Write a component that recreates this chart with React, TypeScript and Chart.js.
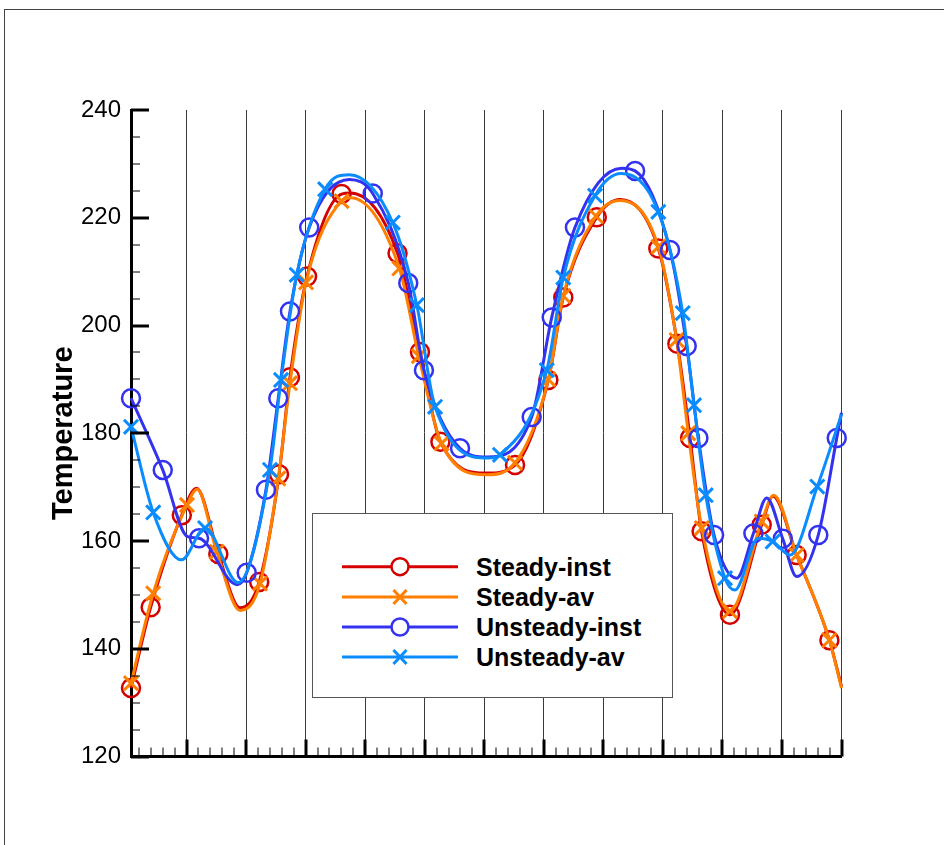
import React, { useEffect, useRef } from "react";
import { Chart, registerables } from "chart.js";

Chart.register(...registerables);

// ---------- data ----------
const SERIES_NAMES = ["Steady-inst", "Steady-av", "Unsteady-inst", "Unsteady-av"];
const SERIES_COLORS = ["#d40000", "#ff7f00", "#3232f0", "#0a8cff"];
const SERIES_STYLES = ["circle", "crossRot", "circle", "crossRot"];

// Steady-inst (m = 1: point carries a marker)
const SI_X = [2, 11.9, 27.6, 35.0, 46.0, 56.9, 66.6, 76.6, 82.1, 90.7, 108.1, 112.5, 136.3, 147.6, 157.9, 181.0, 195.5, 212.3, 219.8, 236.7, 248.5, 267.7, 277.3, 283.7, 289.5, 303.8, 319.8, 325.5, 337.4, 353.9, 360];
const SI_Y = [132.7, 147.7, 164.8, 169.8, 157.6, 147.6, 152.4, 172.4, 190.4, 209.1, 224.4, 224.6, 213.4, 195.1, 178.4, 172.6, 174.1, 189.9, 205.2, 220.1, 223.4, 214.3, 196.6, 179.1, 161.8, 146.3, 163.0, 168.3, 157.4, 141.6, 133.0];
const SI_M = [1, 1, 1, 0, 1, 0, 1, 1, 1, 1, 1, 0, 1, 1, 1, 0, 1, 1, 1, 1, 0, 1, 1, 1, 1, 1, 1, 0, 1, 1, 0];

// Steady-av
const SA_X = [2, 13.2, 30.2, 35.3, 45.2, 57.0, 67.0, 76.2, 82.1, 90.2, 108.1, 112.5, 137.2, 147.0, 158.5, 181.0, 195.5, 212.3, 219.8, 236.3, 248.5, 267.7, 276.9, 282.8, 289.6, 303.8, 319.8, 325.8, 337.4, 353.9, 360];
const SA_Y = [133.6, 150.3, 166.7, 169.6, 158.0, 147.1, 152.1, 171.6, 189.3, 208.0, 223.1, 223.7, 210.6, 194.3, 178.1, 172.3, 174.5, 190.0, 205.5, 220.3, 223.2, 214.6, 197.3, 180.0, 162.4, 147.0, 163.6, 168.5, 157.4, 141.6, 132.7];
const SA_M = [1, 1, 1, 0, 1, 0, 1, 1, 1, 1, 1, 0, 1, 1, 1, 0, 1, 1, 1, 1, 0, 1, 1, 1, 1, 1, 1, 0, 1, 1, 0];

// Unsteady-inst
const UI_X = [2, 18.0, 30.5, 36.3, 55.5, 60.3, 70.0, 76.2, 82.1, 91.8, 112.0, 123.8, 141.7, 149.6, 167.8, 181.5, 203.9, 214.0, 225.7, 249.2, 256.0, 273.6, 282.0, 287.9, 295.8, 307.2, 315.6, 322.3, 330.4, 337.4, 348.3, 357.6, 360];
const UI_Y = [186.5, 173.2, 160.8, 160.5, 151.9, 154.1, 169.5, 186.5, 202.6, 218.2, 227.1, 224.5, 207.9, 191.7, 177.2, 175.6, 183.0, 201.5, 218.2, 229.2, 228.7, 214.0, 196.2, 179.1, 161.1, 153.1, 161.4, 168.0, 160.4, 153.4, 161.1, 179.1, 183.8];
const UI_M = [1, 1, 0, 1, 0, 1, 1, 1, 1, 1, 0, 1, 1, 1, 1, 0, 1, 1, 1, 0, 1, 1, 1, 1, 1, 0, 1, 0, 1, 0, 1, 1, 0];

// Unsteady-av
const UA_X = [2, 13.2, 27.5, 39.3, 56.0, 72.0, 77.6, 85.5, 99.8, 112.0, 133.9, 146.0, 155.2, 182.0, 187.9, 211.5, 219.8, 235.8, 249.0, 267.7, 280.0, 285.7, 291.6, 301.3, 306.3, 318.0, 325.3, 334.1, 347.8, 360];
const UA_Y = [181.2, 165.3, 156.5, 162.4, 152.3, 173.2, 189.9, 209.4, 225.3, 228.0, 219.1, 203.8, 184.9, 175.4, 176.0, 191.7, 208.9, 224.1, 228.2, 221.1, 202.3, 185.2, 168.5, 153.1, 150.9, 160.5, 159.9, 157.4, 170.1, 183.5];
const UA_M = [1, 1, 0, 1, 0, 1, 1, 1, 1, 0, 1, 1, 1, 0, 1, 1, 1, 1, 0, 1, 1, 1, 1, 1, 0, 0, 1, 0, 1, 0];

const Y_MIN = 120;
const Y_MAX = 240;
const Y_STEP = 20;
const Y_MINOR = 5;
const X_MIN = 2;
const X_MAX = 360;
const X_GRID = [30, 60, 90, 120, 150, 180, 210, 240, 270, 300, 330, 360];
const X_MINOR = 6;
const Y_TITLE = "Temperature";

const FONT = "'Liberation Sans', Arial, Helvetica, sans-serif";

const SERIES = [
  { x: SI_X, y: SI_Y, m: SI_M },
  { x: SA_X, y: SA_Y, m: SA_M },
  { x: UI_X, y: UI_Y, m: UI_M },
  { x: UA_X, y: UA_Y, m: UA_M },
];

const axisTicks = {
  id: "axisTicks",
  afterDraw(chart: any) {
    const { ctx, chartArea: a, scales } = chart;
    const xs = scales.x;
    const ys = scales.y;
    ctx.save();
    ctx.strokeStyle = "#000";
    for (let v = Y_MIN; v <= Y_MAX; v += Y_MINOR) {
      const py = Math.round(ys.getPixelForValue(v));
      const major = (v - Y_MIN) % Y_STEP === 0;
      ctx.lineWidth = major ? 3 : 1;
      ctx.beginPath();
      ctx.moveTo(a.left, py);
      ctx.lineTo(a.left + (major ? 18 : 9), py);
      ctx.stroke();
    }
    for (let v = X_MINOR; v <= X_MAX; v += X_MINOR) {
      if (v < X_MIN) continue;
      const px = Math.round(xs.getPixelForValue(v));
      const major = v % 30 === 0;
      ctx.lineWidth = major ? 3 : 1;
      ctx.beginPath();
      ctx.moveTo(px, a.bottom);
      ctx.lineTo(px, a.bottom - (major ? 17 : 9));
      ctx.stroke();
    }
    ctx.restore();
  },
};

function LegendSample({ color, style, y }: { color: string; style: string; y: number }) {
  return (
    <g>
      <line x1={29} x2={145} y1={y} y2={y} stroke={color} strokeWidth={3} />
      {style === "circle" ? (
        <circle cx={87} cy={y} r={8.5} fill="#fff" stroke={color} strokeWidth={2.5} />
      ) : (
        <g stroke={color} strokeWidth={3}>
          <line x1={80.5} y1={y - 7} x2={93.5} y2={y + 7} />
          <line x1={80.5} y1={y + 7} x2={93.5} y2={y - 7} />
        </g>
      )}
    </g>
  );
}

export default function App() {
  const canvasRef = useRef<HTMLCanvasElement | null>(null);

  useEffect(() => {
    const canvas = canvasRef.current;
    if (!canvas) return;
    const datasets = SERIES.map((s, i) => ({
      label: SERIES_NAMES[i],
      data: s.x.map((xv, k) => ({ x: xv, y: s.y[k] })),
      borderColor: SERIES_COLORS[i],
      backgroundColor: "transparent",
      borderWidth: 3,
      fill: false,
      cubicInterpolationMode: "monotone" as const,
      pointStyle: SERIES_STYLES[i] as any,
      pointRadius: s.m.map((f) => (f ? (SERIES_STYLES[i] === "circle" ? 9 : 10) : 0)),
      pointBorderWidth: SERIES_STYLES[i] === "circle" ? 2.5 : 3,
      pointBorderColor: SERIES_COLORS[i],
      pointBackgroundColor: "transparent",
      order: 4 - i,
      clip: false as any,
    }));

    const chart = new Chart(canvas, {
      type: "line",
      data: { datasets },
      plugins: [axisTicks],
      options: {
        responsive: false,
        animation: false,
        devicePixelRatio: 1,
        events: [],
        layout: { padding: { top: 110, right: 102.5, bottom: 0, left: 0 } },
        plugins: {
          legend: { display: false },
          tooltip: { enabled: false },
          title: { display: false },
        },
        scales: {
          x: {
            type: "linear",
            min: X_MIN,
            max: X_MAX,
            afterBuildTicks: (scale: any) => {
              scale.ticks = X_GRID.map((v) => ({ value: v }));
            },
            afterFit: (scale: any) => {
              scale.height = 88.5;
            },
            ticks: { display: false },
            grid: { display: true, color: "#3a3a3a", lineWidth: 1, drawTicks: false },
            border: { display: true, color: "#000", width: 3 },
          },
          y: {
            type: "linear",
            min: Y_MIN,
            max: Y_MAX,
            afterFit: (scale: any) => {
              scale.width = 131;
            },
            ticks: {
              stepSize: Y_STEP,
              color: "#000",
              padding: 10,
              font: { family: FONT, size: 24 },
            },
            grid: { display: false, drawTicks: false },
            border: { display: true, color: "#000", width: 3 },
            title: {
              display: true,
              text: Y_TITLE,
              color: "#000",
              font: { family: FONT, size: 29, weight: "bold" },
              padding: { top: 47, bottom: 0 },
            },
          },
        },
      },
    });
    return () => chart.destroy();
  }, []);

  const rowYs = [52.7, 83, 113, 143];

  return (
    <div style={{ position: "fixed", left: 0, top: 0, width: 944, height: 845, background: "#fff", overflow: "hidden" }}>
      <div
        style={{
          position: "absolute",
          left: 4,
          top: 9,
          width: 1200,
          height: 1200,
          borderLeft: "1px solid #444",
          borderTop: "1px solid #444",
        }}
      />
      <canvas ref={canvasRef} width={944} height={845} style={{ position: "absolute", left: 0, top: 0, width: 944, height: 845 }} />
      <div
        style={{
          position: "absolute",
          left: 312,
          top: 513,
          width: 359,
          height: 183,
          border: "1px solid #555",
          background: "#fff",
        }}
      >
        <svg width={359} height={183} style={{ position: "absolute", left: 0, top: 0 }}>
          {SERIES_NAMES.map((n, i) => (
            <LegendSample key={n} color={SERIES_COLORS[i]} style={SERIES_STYLES[i]} y={rowYs[i]} />
          ))}
        </svg>
        {SERIES_NAMES.map((n, i) => (
          <div
            key={n}
            style={{
              position: "absolute",
              left: 163,
              top: rowYs[i] - 16,
              height: 32,
              lineHeight: "32px",
              fontFamily: FONT,
              fontWeight: "bold",
              fontSize: 25,
              color: "#000",
              whiteSpace: "nowrap",
            }}
          >
            {n}
          </div>
        ))}
      </div>
    </div>
  );
}
